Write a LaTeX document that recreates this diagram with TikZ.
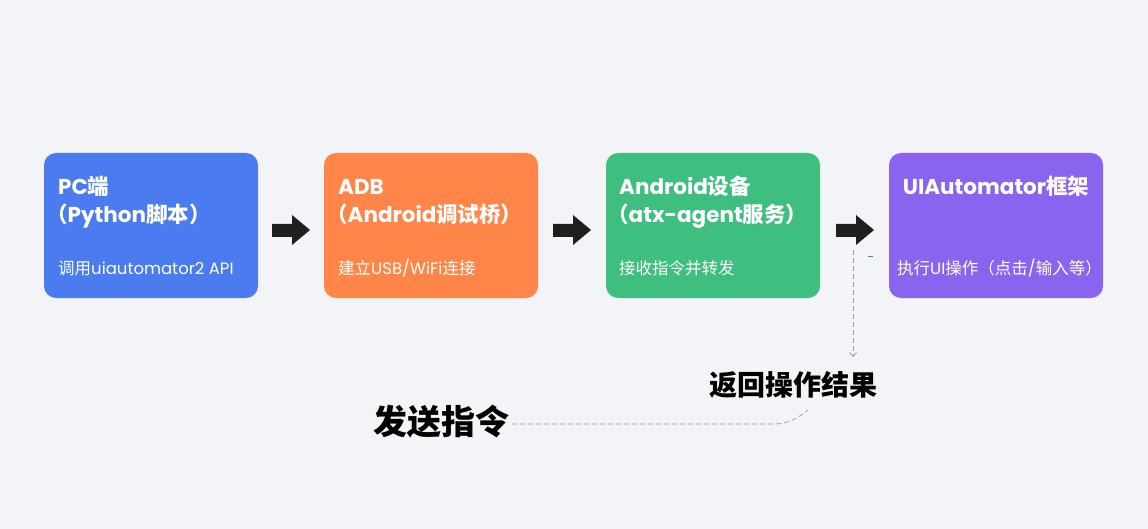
\documentclass[tikz,border=0pt]{standalone}
\usepackage{fontspec}
\setmainfont{Poppins}
\newfontfamily\cjk{Noto Sans CJK SC}
\newcommand{\C}[1]{{\cjk #1}}
\usetikzlibrary{arrows.meta}
\definecolor{bg}{HTML}{F3F4F7}
\definecolor{cblue}{HTML}{4A7CF0}
\definecolor{corange}{HTML}{FF8548}
\definecolor{cgreen}{HTML}{3EBF80}
\definecolor{cpurple}{HTML}{8A64EE}
\definecolor{dashgray}{HTML}{9A9CA3}
\tikzset{
  card/.style={rectangle, rounded corners=12pt, minimum width=214pt, minimum height=145pt, inner sep=0pt, draw=none},
  ttl/.style={text=white, font=\fontsize{21.5}{29}\selectfont\bfseries, inner sep=0pt, anchor=base west},
  sub/.style={text=white, font=\fontsize{16.5}{18}\selectfont, inner sep=0pt, anchor=base west},
  blockarrow/.style={fill=black!88, draw=none},
  dashconn/.style={draw=dashgray, dash pattern=on 5pt off 3pt, line width=0.7pt},
  biglabel/.style={text=black, inner sep=0pt}
}
\begin{document}
\begin{tikzpicture}[x=1pt,y=-1pt]
\fill[bg] (0,0) rectangle (1148,529);
\useasboundingbox (0,0) rectangle (1148,529);
% cards
\node[card, fill=cblue]   (b1) at (151,225.5) {};
\node[card, fill=corange] (b2) at (431,225.5) {};
\node[card, fill=cgreen]  (b3) at (713,225.5) {};
\node[card, fill=cpurple] (b4) at (996,225.5) {};
% texts
\node[ttl] (t1a) at (58,195) {PC\C{端}};
\node[ttl] (t1b) at (46,223) {\C{（}Python\C{脚本）}};
\node[sub] (s1) at (58,275) {\C{调用}uiautomator2 API};
\node[ttl] (t2a) at (338,195) {ADB};
\node[ttl] (t2b) at (326,223) {\C{（}Android\C{调试桥）}};
\node[sub] (s2) at (338,275) {\C{建立}USB/WiFi\C{连接}};
\node[ttl] (t3a) at (619,195) {Android\C{设备}};
\node[ttl] (t3b) at (607,223) {\C{（}atx-agent\C{服务）}};
\node[sub] (s3) at (619,275) {\C{接收指令并转发}};
\node[ttl, anchor=base] (t4) at (996,195) {UIAutomator\C{框架}};
\node[sub] (s4) at (897,275) {\C{执行}UI\C{操作（点击}/\C{输入等）}};
% block arrows
\foreach \xa/\nm in {272/a1,553/a2,836/a3}{
  \fill[blockarrow] (\xa,224) -- (\xa+20,224) -- (\xa+20,215) -- (\xa+38,230) -- (\xa+20,245) -- (\xa+20,237) -- (\xa,237) -- cycle;
  \coordinate (\nm) at (\xa+19,230);
}
% dashed return connector
\coordinate (d0) at (853,250);
\node[biglabel, font=\fontsize{28}{32}\selectfont\bfseries\cjk] (ret) at (793,385) {返回操作结果};
\node[biglabel, font=\fontsize{34}{38}\selectfont\bfseries\cjk] (send) at (441,422) {发送指令};
\coordinate (d1) at (853,357);
\draw[dashconn, -{Straight Barb[length=4pt,width=7pt]}] (d0) -- (d1);
\draw[cblue, line width=1pt] (868,257) -- (873,257);
\coordinate (c1) at (808,410);
\draw[dashconn] (send.east) ++(3,2) -- (775,424) .. controls (790,424) and (800,416) .. (c1);
\end{tikzpicture}
\end{document}
